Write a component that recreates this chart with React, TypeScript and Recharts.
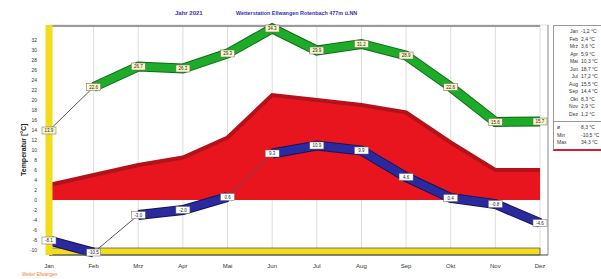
import {
  Area,
  CartesianGrid,
  ComposedChart,
  LabelList,
  Line,
  ReferenceArea,
  XAxis,
  YAxis,
} from "recharts";

const months = ["Jan", "Feb", "Mrz", "Apr", "Mai", "Jun", "Jul", "Aug", "Sep", "Okt", "Nov", "Dez"];
const maxTemp = [13.9, 22.6, 26.7, 26.3, 29.3, 34.3, 29.9, 31.2, 28.9, 22.6, 15.6, 15.7];
const minTemp = [-8.1, -10.5, -3.0, -2.0, 0.6, 9.3, 10.9, 9.9, 4.6, 0.4, -0.8, -4.6];
const meanBand = [3.0, 5.0, 7.0, 8.5, 12.5, 21.0, 20.0, 19.0, 17.5, 11.5, 6.0, 6.0];
const yTicks = [-10, -8, -6, -4, -2, 0, 2, 4, 6, 8, 10, 12, 14, 16, 18, 20, 22, 24, 26, 28, 30, 32];

// months where the 3d ribbons are drawn (the rest only gets the thin line)
const maxRibbonMonths = ["Feb", "Mrz", "Apr", "Mai", "Jun", "Jul", "Aug", "Sep", "Okt", "Nov", "Dez"];
const minRibbonA = ["Jan", "Feb", "Jun", "Jul", "Aug", "Sep", "Okt", "Nov", "Dez"];
const minRibbonB = ["Mrz", "Apr", "Mai"];

// legend table on the right
const legendValues = ["-1,2", "2,4", "3,6", "5,9", "10,3", "18,7", "17,2", "15,5", "14,4", "8,3", "2,9", "1,2"];
const legendSummary = [
  ["ø", "8,3"],
  ["Min", "-10,5"],
  ["Max", "34,3"],
];

const data = months.map((m, i) => ({
  month: m,
  max: maxTemp[i],
  min: minTemp[i],
  mean: meanBand[i],
  maxRib: maxRibbonMonths.includes(m) ? maxTemp[i] : null,
  minRibA: minRibbonA.includes(m) ? minTemp[i] : null,
  minRibB: minRibbonB.includes(m) ? minTemp[i] : null,
}));

const valueBox = (fill: string) => (props: any) => {
  const { x, y, value } = props;
  if (value == null) return null;
  return (
    <g>
      <rect x={x - 7} y={y - 3.5} width={14} height={7} fill={fill} stroke="#666" strokeWidth={0.5} />
      <text x={x} y={y + 1.8} fontSize={4.5} textAnchor="middle" fill="#222" fontFamily="Arial">
        {Number(value).toFixed(1)}
      </text>
    </g>
  );
};

export default function App() {
  return (
    <div style={{ position: "absolute", left: 0, top: 0, width: 601, height: 279, background: "#fff", fontFamily: "Arial" }}>
      <div style={{ position: "absolute", left: 175, top: 10, fontSize: 6, fontWeight: "bold", color: "#3232b4" }}>Jahr 2021</div>
      <div style={{ position: "absolute", left: 236, top: 10, fontSize: 5.4, fontWeight: "bold", color: "#3232b4", whiteSpace: "nowrap" }}>
        Wetterstation Ellwangen Rotenbach 477m ü.NN
      </div>

      <ComposedChart
        width={601}
        height={279}
        data={data}
        margin={{ top: 25, right: 52, bottom: 0, left: 0 }}
      >
        <CartesianGrid stroke="#c8c8c8" strokeWidth={0.6} />
        <ReferenceArea yAxisId="left" y1={-11} y2={-9.6} fill="#f2dc1c" fillOpacity={1} stroke="#555" strokeWidth={0.8} />
        <XAxis
          dataKey="month"
          scale="point"
          padding={{ left: 0, right: 8 }}
          height={24}
          tickLine={false}
          axisLine={{ stroke: "#555" }}
          tick={{ fontSize: 6, fill: "#333" }}
          tickMargin={3}
          interval={0}
        />
        <YAxis
          yAxisId="left"
          domain={[-11, 35]}
          ticks={yTicks}
          width={49}
          tickLine={false}
          axisLine={{ stroke: "#f2dc1c", strokeWidth: 7 }}
          tick={{ fontSize: 5, fill: "#333" }}
          tickMargin={6}
          interval={0}
          label={{ value: "Temperatur [°C]", angle: -90, position: "insideLeft", offset: 24, dy: 36, style: { fontSize: 7, fontWeight: "bold", fill: "#222" } }}
        />
        <YAxis
          yAxisId="right"
          orientation="right"
          domain={[-11, 35]}
          width={1}
          tick={false}
          tickLine={false}
          axisLine={{ stroke: "#999" }}
        />
        <ReferenceArea yAxisId="left" y1={34.6} y2={35} fill="#999" fillOpacity={1} />

        <Area
          yAxisId="left"
          dataKey="mean"
          type="linear"
          baseValue={0}
          fill="#e8141e"
          fillOpacity={1}
          stroke="#b3121a"
          strokeWidth={4}
          isAnimationActive={false}
        />

        <Line yAxisId="left" dataKey="max" type="linear" stroke="#555" strokeWidth={1} dot={false} isAnimationActive={false} />
        <Line yAxisId="left" dataKey="min" type="linear" stroke="#555" strokeWidth={1} dot={false} isAnimationActive={false} />

        <Line yAxisId="left" dataKey="maxRib" type="linear" stroke="#0d6e14" strokeWidth={10} dot={false} isAnimationActive={false} />
        <Line yAxisId="left" dataKey="maxRib" type="linear" stroke="#1fab2a" strokeWidth={8} dot={false} isAnimationActive={false} />
        <Line yAxisId="left" dataKey="minRibA" type="linear" stroke="#14145c" strokeWidth={10} dot={false} isAnimationActive={false} />
        <Line yAxisId="left" dataKey="minRibA" type="linear" stroke="#2a2a9c" strokeWidth={8} dot={false} isAnimationActive={false} />
        <Line yAxisId="left" dataKey="minRibB" type="linear" stroke="#14145c" strokeWidth={10} dot={false} isAnimationActive={false} />
        <Line yAxisId="left" dataKey="minRibB" type="linear" stroke="#2a2a9c" strokeWidth={8} dot={false} isAnimationActive={false} />

        <Line yAxisId="left" dataKey="max" stroke="none" dot={false} isAnimationActive={false}>
          <LabelList dataKey="max" content={valueBox("#fdf6c8")} />
        </Line>
        <Line yAxisId="left" dataKey="min" stroke="none" dot={false} isAnimationActive={false}>
          <LabelList dataKey="min" content={valueBox("#ffffff")} />
        </Line>
      </ComposedChart>

      <div
        style={{
          position: "absolute",
          left: 553,
          top: 25,
          width: 60,
          height: 126,
          border: "1px solid #999",
          borderBottom: "2px solid #d02030",
          background: "#fff",
          fontSize: 5,
          color: "#333",
          lineHeight: "7.5px",
          paddingTop: 2,
          boxSizing: "border-box",
        }}
      >
        {months.map((m, i) => (
          <div key={m} style={{ display: "flex" }}>
            <span style={{ width: 24, textAlign: "right", marginRight: 3 }}>{m}</span>
            <span>{legendValues[i]} °C</span>
          </div>
        ))}
        <div style={{ borderTop: "1px solid #999", marginTop: 3, paddingTop: 2 }}>
          {legendSummary.map(([k, v]) => (
            <div key={k} style={{ display: "flex" }}>
              <span style={{ width: 14, marginLeft: 3, marginRight: 10 }}>{k}</span>
              <span>{v} °C</span>
            </div>
          ))}
        </div>
      </div>

      <div style={{ position: "absolute", left: 22, top: 272, fontSize: 4.5, color: "#f08030", whiteSpace: "nowrap" }}>Wetter Ellwangen</div>
    </div>
  );
}
